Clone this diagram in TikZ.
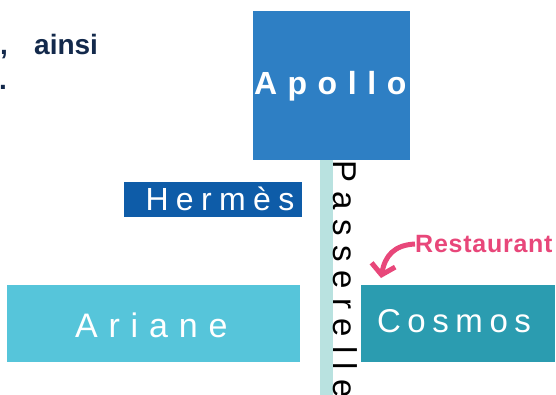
\documentclass[tikz,border=0pt]{standalone}
\usepackage{fontspec}
\setmainfont{Liberation Sans}
\usetikzlibrary{arrows.meta}
\definecolor{apolloc}{HTML}{2E7FC4}
\definecolor{hermesc}{HTML}{0E5CA8}
\definecolor{arianec}{HTML}{56C5DA}
\definecolor{cosmosc}{HTML}{2B9CB0}
\definecolor{passc}{HTML}{B9E2E0}
\definecolor{pinkc}{HTML}{E8477A}
\definecolor{navyc}{HTML}{13294B}
\tikzset{
  box/.style={draw=none, inner sep=0pt, outer sep=0pt, anchor=north west},
  lbl/.style={inner sep=0pt, outer sep=0pt, anchor=base west, text=white},
  navytxt/.style={inner sep=0pt, anchor=base west, text=navyc, font=\fontsize{28}{28}\selectfont\bfseries},
}
\newcommand{\spc}[3]{\fontsize{#1}{#1}\selectfont\addfontfeatures{LetterSpace=#2}#3}
\begin{document}
\begin{tikzpicture}[x=1pt,y=-1pt]
\useasboundingbox (0,0) rectangle (556,395);
\clip (0,0) rectangle (556,395);
% top-left text
\node[navytxt] (comma) at (0,55) {,};
\node[navytxt] (ainsi) at (34,55) {ainsi};
\node[navytxt] (dot) at (-1,90) {.};
% boxes
\node[box, fill=apolloc, minimum width=157pt, minimum height=149pt] (apollo) at (253,11) {};
\node[box, fill=hermesc, minimum width=178pt, minimum height=35pt] (hermes) at (124,182) {};
\node[box, fill=arianec, minimum width=293pt, minimum height=77pt] (ariane) at (7,285) {};
\node[box, fill=cosmosc, minimum width=194pt, minimum height=77pt] (cosmos) at (361,285) {};
\node[box, fill=passc, minimum width=13pt, minimum height=240pt] (passerelle) at (320,160) {};
% labels
\node[lbl] (apollot) at (254,95) {\bfseries\spc{32}{33}{Apollo}};
\node[lbl] (hermest) at (145.5,211) {\spc{32}{23}{Hermès}};
\node[lbl] (arianet) at (75,337) {\spc{34}{32}{Ariane}};
\node[lbl] (cosmost) at (377,332) {\spc{33}{20}{Cosmos}};
\node[lbl, text=black, rotate=-90] (passt) at (333,160.5) {\spc{33}{28}{Passerelle}};
% restaurant
\node[inner sep=0pt, anchor=base west, text=pinkc] (rest) at (415,252) {\bfseries\spc{25}{3}{Restaurant}};
\draw[pinkc, line width=5pt, -{Straight Barb[length=10pt,width=24pt]}]
  (rest.west |- 0,244) .. controls (394,245) and (385,256) .. (381,278);
\end{tikzpicture}
\end{document}
